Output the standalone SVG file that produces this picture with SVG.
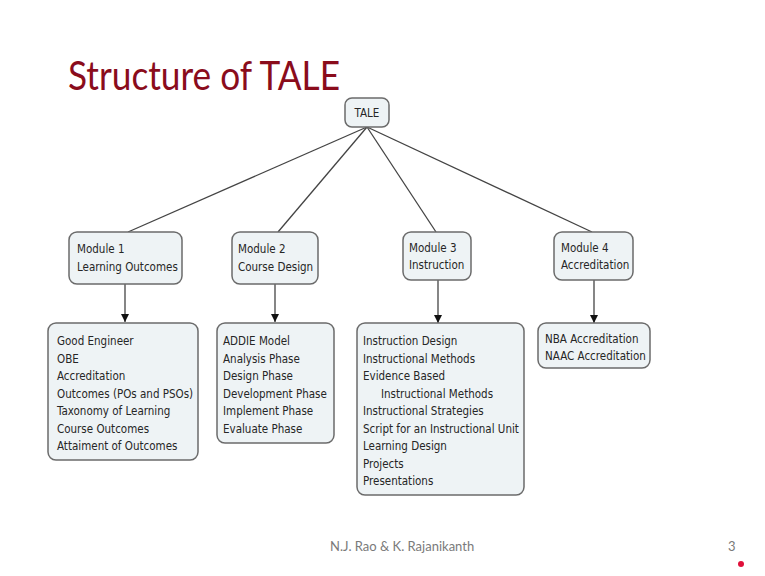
<svg xmlns="http://www.w3.org/2000/svg" width="765" height="576" viewBox="0 0 765 576">
<style>
.box{fill:#eef3f5;stroke:#6b6b6b;stroke-width:1.5}
.t{font-family:"DejaVu Sans Condensed","DejaVu Sans",sans-serif;font-stretch:condensed;font-size:11.5px;fill:#262626}
.edge{stroke:#444;stroke-width:1.3;fill:none}
</style>
<defs>
<marker id="arr" viewBox="0 0 10 10" refX="10" refY="5" markerWidth="8" markerHeight="8" markerUnits="userSpaceOnUse" orient="auto">
<path d="M0,0 L10,5 L0,10 z" fill="#111"/>
</marker>
</defs>
<rect width="765" height="576" fill="#ffffff"/>
<text x="68" y="90" font-family="Lato,'Open Sans',sans-serif" font-size="41" fill="#8a0c1c" textLength="272" lengthAdjust="spacingAndGlyphs">Structure of TALE</text>
<g id="connectors">
<line class="edge" x1="367" y1="127" x2="128" y2="232"/>
<line class="edge" x1="367" y1="127" x2="278" y2="232"/>
<line class="edge" x1="367" y1="127" x2="436" y2="232"/>
<line class="edge" x1="367" y1="127" x2="592" y2="232"/>
<line class="edge" x1="125" y1="284" x2="125" y2="322" marker-end="url(#arr)"/>
<line class="edge" x1="275" y1="284" x2="275" y2="322" marker-end="url(#arr)"/>
<line class="edge" x1="438" y1="280" x2="438" y2="323" marker-end="url(#arr)"/>
<line class="edge" x1="594" y1="280" x2="594" y2="323" marker-end="url(#arr)"/>
</g>
<g id="tale">
<rect class="box" x="345" y="98" width="44" height="29" rx="7"/>
<text class="t" x="367" y="117" text-anchor="middle">TALE</text>
</g>
<g id="module1">
<rect class="box" x="69" y="232" width="113" height="52" rx="8"/>
<text class="t" x="77" y="253">Module 1</text>
<text class="t" x="77" y="271">Learning Outcomes</text>
</g>
<g id="module2">
<rect class="box" x="232" y="232" width="86" height="52" rx="8"/>
<text class="t" x="238" y="253">Module 2</text>
<text class="t" x="238" y="271">Course Design</text>
</g>
<g id="module3">
<rect class="box" x="403" y="232" width="68" height="48" rx="8"/>
<text class="t" x="409" y="252">Module 3</text>
<text class="t" x="409" y="269">Instruction</text>
</g>
<g id="module4">
<rect class="box" x="554" y="232" width="79" height="48" rx="8"/>
<text class="t" x="561" y="252">Module 4</text>
<text class="t" x="561" y="269">Accreditation</text>
</g>
<g id="leaf1">
<rect class="box" x="48" y="323" width="150" height="137" rx="8"/>
<text class="t" x="57" y="345">Good Engineer</text>
<text class="t" x="57" y="362.5">OBE</text>
<text class="t" x="57" y="380">Accreditation</text>
<text class="t" x="57" y="397.5">Outcomes (POs and PSOs)</text>
<text class="t" x="57" y="415">Taxonomy of Learning</text>
<text class="t" x="57" y="432.5">Course Outcomes</text>
<text class="t" x="57" y="450">Attaiment of Outcomes</text>
</g>
<g id="leaf2">
<rect class="box" x="217" y="323" width="117" height="120" rx="8"/>
<text class="t" x="223" y="345">ADDIE Model</text>
<text class="t" x="223" y="362.5">Analysis Phase</text>
<text class="t" x="223" y="380">Design Phase</text>
<text class="t" x="223" y="397.5">Development Phase</text>
<text class="t" x="223" y="415">Implement Phase</text>
<text class="t" x="223" y="432.5">Evaluate Phase</text>
</g>
<g id="leaf3">
<rect class="box" x="357" y="323" width="167" height="172" rx="8"/>
<text class="t" x="363" y="345">Instruction Design</text>
<text class="t" x="363" y="362.5">Instructional Methods</text>
<text class="t" x="363" y="380">Evidence Based</text>
<text class="t" x="381" y="397.5">Instructional Methods</text>
<text class="t" x="363" y="415">Instructional Strategies</text>
<text class="t" x="363" y="432.5">Script for an Instructional Unit</text>
<text class="t" x="363" y="450">Learning Design</text>
<text class="t" x="363" y="467.5">Projects</text>
<text class="t" x="363" y="485">Presentations</text>
</g>
<g id="leaf4">
<rect class="box" x="538" y="323" width="112" height="45" rx="8"/>
<text class="t" x="545" y="343">NBA Accreditation</text>
<text class="t" x="545" y="360">NAAC Accreditation</text>
</g>
<text x="330" y="551" font-family="Lato,'Open Sans',sans-serif" font-size="13" fill="#7a7a7a">N.J. Rao &amp; K. Rajanikanth</text>
<text x="728" y="551" font-family="Lato,'Open Sans',sans-serif" font-size="13" fill="#7a7a7a">3</text>
<circle cx="741" cy="564" r="3" fill="#e0103a"/>
</svg>
